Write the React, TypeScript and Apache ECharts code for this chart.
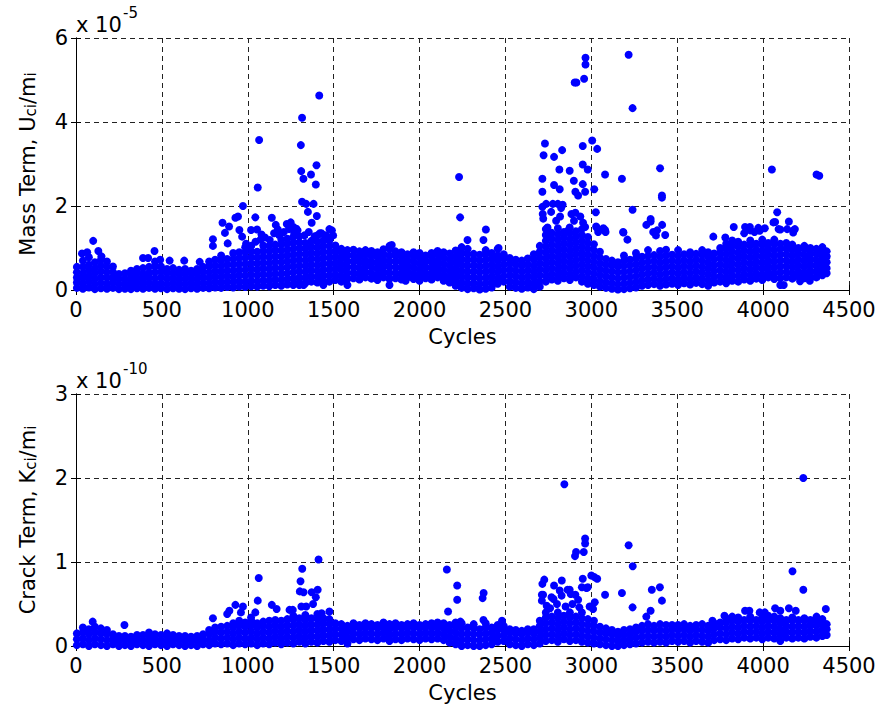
import React, { useEffect, useRef } from "react";
import * as echarts from "echarts";

// x axis: cycles; top panel values in units of 1e-5, bottom panel in units of 1e-10
const xTicks = [0, 500, 1000, 1500, 2000, 2500, 3000, 3500, 4000, 4500];
const massTicks = [0, 2, 4, 6];
const crackTicks = [0, 1, 2, 3];

// dense band of the Mass Term panel: [cycle, y1, y2, ...] (x 1e-5)
const massBand: number[][] = [
  [5, 0.05, 0.18, 0.3, 0.42, 0.55],
  [40, 0.03, 0.15, 0.28, 0.4, 0.55, 0.7],
  [75, 0.06, 0.2, 0.33, 0.47, 0.6, 0.78],
  [110, 0.02, 0.14, 0.27, 0.4, 0.52, 0.66],
  [145, 0.04, 0.17, 0.3, 0.44, 0.58, 0.72],
  [180, 0.03, 0.15, 0.29, 0.42, 0.55, 0.68],
  [215, 0.05, 0.18, 0.3, 0.43, 0.56],
  [250, 0.02, 0.14, 0.26, 0.38],
  [285, 0.03, 0.15, 0.27, 0.4],
  [320, 0.02, 0.13, 0.25, 0.37, 0.46],
  [355, 0.04, 0.16, 0.28, 0.4, 0.5],
  [390, 0.03, 0.15, 0.27, 0.39, 0.52],
  [425, 0.05, 0.17, 0.29, 0.41, 0.55],
  [460, 0.03, 0.15, 0.28, 0.42, 0.56, 0.68],
  [495, 0.04, 0.16, 0.3, 0.43, 0.56],
  [530, 0.02, 0.14, 0.27, 0.4, 0.5],
  [565, 0.04, 0.16, 0.28, 0.4, 0.52],
  [600, 0.03, 0.15, 0.27, 0.39, 0.48],
  [635, 0.02, 0.14, 0.26, 0.38, 0.5],
  [670, 0.04, 0.16, 0.28, 0.4, 0.46],
  [705, 0.03, 0.15, 0.27, 0.39, 0.5],
  [740, 0.05, 0.17, 0.3, 0.43, 0.55],
  [775, 0.04, 0.16, 0.29, 0.42, 0.56, 0.68],
  [810, 0.06, 0.19, 0.32, 0.45, 0.58, 0.72],
  [845, 0.05, 0.18, 0.31, 0.44, 0.57, 0.7, 0.82],
  [880, 0.07, 0.2, 0.33, 0.46, 0.6, 0.74],
  [915, 0.06, 0.19, 0.32, 0.46, 0.6, 0.74, 0.88],
  [950, 0.08, 0.21, 0.35, 0.48, 0.62, 0.76, 0.9],
  [985, 0.07, 0.2, 0.34, 0.48, 0.62, 0.76, 0.9, 1.02],
  [1020, 0.09, 0.22, 0.36, 0.5, 0.64, 0.78, 0.92, 1.05],
  [1055, 0.08, 0.21, 0.35, 0.49, 0.63, 0.77, 0.91],
  [1090, 0.1, 0.23, 0.37, 0.51, 0.65, 0.79, 0.93, 1.06],
  [1125, 0.09, 0.22, 0.36, 0.5, 0.64, 0.78, 0.92, 1.05],
  [1160, 0.12, 0.25, 0.39, 0.53, 0.67, 0.81, 0.95, 1.08],
  [1195, 0.1, 0.24, 0.38, 0.52, 0.66, 0.8, 0.94, 1.08, 1.2],
  [1230, 0.13, 0.26, 0.4, 0.54, 0.68, 0.82, 0.96, 1.1, 1.22],
  [1265, 0.15, 0.28, 0.42, 0.56, 0.7, 0.84, 0.98, 1.12, 1.26],
  [1300, 0.18, 0.3, 0.44, 0.58, 0.72, 0.86, 1.0, 1.14, 1.28],
  [1335, 0.16, 0.29, 0.43, 0.57, 0.71, 0.85, 0.99, 1.12],
  [1370, 0.2, 0.33, 0.47, 0.61, 0.75, 0.89, 1.03, 1.17],
  [1405, 0.18, 0.31, 0.45, 0.59, 0.73, 0.87, 1.01, 1.15, 1.3],
  [1440, 0.22, 0.35, 0.49, 0.63, 0.77, 0.91, 1.05, 1.18],
  [1475, 0.2, 0.34, 0.48, 0.62, 0.76, 0.9, 1.04, 1.18],
  [1510, 0.24, 0.37, 0.51, 0.65, 0.79, 0.93, 1.06],
  [1545, 0.2, 0.33, 0.47, 0.61, 0.75, 0.89, 0.98],
  [1580, 0.12, 0.26, 0.4, 0.54, 0.68, 0.82, 0.95],
  [1615, 0.28, 0.41, 0.55, 0.69, 0.83, 0.96],
  [1650, 0.25, 0.38, 0.52, 0.66, 0.8, 0.92],
  [1685, 0.3, 0.43, 0.57, 0.71, 0.85, 0.95],
  [1720, 0.27, 0.4, 0.54, 0.68, 0.82, 0.93],
  [1755, 0.24, 0.37, 0.51, 0.65, 0.79, 0.9],
  [1790, 0.3, 0.43, 0.57, 0.71, 0.85, 0.97],
  [1825, 0.12, 0.26, 0.4, 0.54, 0.68, 0.82, 0.98, 1.05],
  [1860, 0.28, 0.41, 0.55, 0.69, 0.83, 0.92],
  [1895, 0.25, 0.38, 0.52, 0.66, 0.8, 0.9],
  [1930, 0.3, 0.43, 0.57, 0.71, 0.85],
  [1965, 0.26, 0.39, 0.53, 0.67, 0.81, 0.9],
  [2000, 0.22, 0.35, 0.49, 0.63, 0.77, 0.88],
  [2035, 0.28, 0.41, 0.55, 0.69, 0.82],
  [2070, 0.25, 0.38, 0.52, 0.66, 0.8, 0.88],
  [2105, 0.3, 0.43, 0.57, 0.71, 0.85, 0.93],
  [2140, 0.22, 0.35, 0.49, 0.63, 0.77, 0.9],
  [2175, 0.18, 0.31, 0.45, 0.59, 0.73, 0.87],
  [2210, 0.1, 0.24, 0.38, 0.52, 0.66, 0.8, 0.94],
  [2245, 0.05, 0.18, 0.32, 0.46, 0.6, 0.74, 0.88, 1.02],
  [2280, 0.02, 0.15, 0.29, 0.43, 0.57, 0.71, 0.85, 0.98],
  [2315, 0.04, 0.17, 0.31, 0.45, 0.59, 0.73, 0.86],
  [2350, 0.01, 0.14, 0.28, 0.42, 0.56, 0.7, 0.84],
  [2385, 0.03, 0.16, 0.3, 0.44, 0.58, 0.72, 0.85, 0.95],
  [2420, 0.06, 0.19, 0.33, 0.47, 0.61, 0.75, 0.88],
  [2455, 0.15, 0.28, 0.42, 0.56, 0.7, 0.82, 0.98],
  [2490, 0.2, 0.33, 0.47, 0.61, 0.75, 0.85],
  [2525, 0.08, 0.21, 0.35, 0.49, 0.63, 0.76],
  [2560, 0.05, 0.18, 0.32, 0.46, 0.6, 0.72],
  [2595, 0.03, 0.16, 0.3, 0.44, 0.58, 0.7],
  [2630, 0.06, 0.19, 0.33, 0.47, 0.61, 0.75],
  [2665, 0.02, 0.15, 0.29, 0.43, 0.57, 0.72, 0.85],
  [2700, 0.08, 0.21, 0.35, 0.49, 0.63, 0.77, 0.91, 1.05],
  [2735, 0.2, 0.33, 0.47, 0.61, 0.75, 0.89, 1.03, 1.17, 1.31, 1.45],
  [2770, 0.25, 0.38, 0.52, 0.66, 0.8, 0.94, 1.08, 1.22, 1.36],
  [2805, 0.22, 0.35, 0.49, 0.63, 0.77, 0.91, 1.05, 1.19, 1.33, 1.47],
  [2840, 0.28, 0.41, 0.55, 0.69, 0.83, 0.97, 1.11, 1.25, 1.38],
  [2875, 0.24, 0.37, 0.51, 0.65, 0.79, 0.93, 1.07, 1.21, 1.35],
  [2910, 0.3, 0.43, 0.57, 0.71, 0.85, 0.99, 1.13, 1.27, 1.4],
  [2945, 0.2, 0.33, 0.47, 0.61, 0.75, 0.89, 1.03, 1.17, 1.31, 1.45],
  [2980, 0.15, 0.28, 0.42, 0.56, 0.7, 0.84, 0.98, 1.12, 1.26],
  [3015, 0.12, 0.25, 0.39, 0.53, 0.67, 0.81, 0.95, 1.09],
  [3050, 0.08, 0.21, 0.35, 0.49, 0.63, 0.77, 0.91],
  [3085, 0.05, 0.18, 0.32, 0.46, 0.6, 0.74],
  [3120, 0.03, 0.16, 0.3, 0.44, 0.58, 0.7],
  [3155, 0.01, 0.14, 0.28, 0.42, 0.56, 0.66],
  [3190, 0.02, 0.15, 0.29, 0.43, 0.57, 0.7, 0.82],
  [3225, 0.04, 0.17, 0.31, 0.45, 0.59, 0.72],
  [3260, 0.06, 0.19, 0.33, 0.47, 0.61, 0.75, 0.88],
  [3295, 0.1, 0.23, 0.37, 0.51, 0.65, 0.79],
  [3330, 0.12, 0.25, 0.39, 0.53, 0.67, 0.81, 0.95],
  [3365, 0.14, 0.27, 0.41, 0.55, 0.69, 0.83],
  [3400, 0.1, 0.23, 0.37, 0.51, 0.65, 0.79, 0.93],
  [3435, 0.13, 0.26, 0.4, 0.54, 0.68, 0.82, 0.96],
  [3470, 0.15, 0.28, 0.42, 0.56, 0.7, 0.84],
  [3505, 0.12, 0.25, 0.39, 0.53, 0.67, 0.81, 0.95],
  [3540, 0.16, 0.29, 0.43, 0.57, 0.71, 0.85],
  [3575, 0.13, 0.26, 0.4, 0.54, 0.68, 0.82, 0.9],
  [3610, 0.17, 0.3, 0.44, 0.58, 0.72, 0.86],
  [3645, 0.14, 0.27, 0.41, 0.55, 0.69, 0.83, 0.95],
  [3680, 0.1, 0.23, 0.37, 0.51, 0.65, 0.79, 0.9],
  [3715, 0.18, 0.31, 0.45, 0.59, 0.73, 0.87],
  [3750, 0.2, 0.33, 0.47, 0.61, 0.75, 0.89, 1.0],
  [3785, 0.16, 0.29, 0.43, 0.57, 0.71, 0.85, 0.99, 1.1],
  [3820, 0.22, 0.35, 0.49, 0.63, 0.77, 0.91, 1.05, 1.18],
  [3855, 0.2, 0.33, 0.47, 0.61, 0.75, 0.89, 1.03, 1.15],
  [3890, 0.25, 0.38, 0.52, 0.66, 0.8, 0.94, 1.08],
  [3925, 0.22, 0.35, 0.49, 0.63, 0.77, 0.91, 1.05, 1.18],
  [3960, 0.27, 0.4, 0.54, 0.68, 0.82, 0.96, 1.1],
  [3995, 0.24, 0.37, 0.51, 0.65, 0.79, 0.93, 1.07, 1.2],
  [4030, 0.3, 0.43, 0.57, 0.71, 0.85, 0.99, 1.12],
  [4065, 0.26, 0.39, 0.53, 0.67, 0.81, 0.95, 1.09, 1.2],
  [4100, 0.12, 0.28, 0.42, 0.56, 0.7, 0.84, 0.98, 1.1],
  [4135, 0.3, 0.43, 0.57, 0.71, 0.85, 0.99, 1.12],
  [4170, 0.27, 0.4, 0.54, 0.68, 0.82, 0.96, 1.08],
  [4205, 0.32, 0.45, 0.59, 0.73, 0.87, 1.0],
  [4240, 0.28, 0.41, 0.55, 0.69, 0.83, 0.97, 1.05],
  [4275, 0.33, 0.46, 0.6, 0.74, 0.88, 1.0],
  [4310, 0.3, 0.43, 0.57, 0.71, 0.85, 0.98],
  [4345, 0.35, 0.48, 0.62, 0.76, 0.9, 1.02],
  [4370, 0.4, 0.52, 0.66, 0.8, 0.92],
];

// scattered points of the Mass Term panel: [cycle, value] (x 1e-5)
const massScatter: number[][] = [
  [35, 0.87], [65, 0.9], [100, 1.17], [130, 0.93], [148, 0.8], [390, 0.76], [420, 0.76],
  [457, 0.93], [490, 0.72], [545, 0.7], [630, 0.7], [720, 0.67],
  [797, 1.21], [797, 1.05], [853, 1.6], [867, 1.36], [883, 1.11], [891, 1.51], [928, 1.72],
  [943, 1.75], [951, 1.43], [967, 1.27], [972, 2.0], [990, 1.1],
  [1019, 1.43], [1044, 1.73], [1054, 1.44], [1058, 2.44], [1066, 3.57], [1074, 1.2],
  [1128, 1.19], [1140, 1.72], [1153, 1.35], [1163, 1.55], [1175, 1.44], [1227, 1.57],
  [1250, 1.61], [1265, 1.5], [1283, 1.46], [1309, 3.45], [1311, 2.83], [1316, 4.1],
  [1316, 2.1], [1324, 2.65], [1340, 2.05], [1350, 1.86], [1368, 2.75], [1372, 1.6],
  [1383, 2.05], [1396, 2.51], [1400, 2.97], [1402, 1.76], [1416, 4.63], [1429, 1.35],
  [1475, 1.45], [1490, 1.42], [1497, 1.3], [1265, 0.12], [1300, 0.12], [1325, 0.12], [1440, 0.12],
  [1045, 1.15], [1080, 1.32], [1100, 1.25], [1185, 1.3], [1210, 1.38], [1240, 1.45],
  [1270, 1.36], [1290, 1.42], [1330, 1.3], [1355, 1.38], [1390, 1.28], [1420, 1.35],
  [1455, 1.3], [1480, 1.25],
  [1838, 1.07], [1919, 0.22], [2230, 2.69], [2236, 1.73], [2279, 1.19], [2372, 1.19],
  [2386, 1.44], [2460, 1.0],
  [2715, 2.65], [2715, 2.34], [2722, 3.21], [2730, 3.49], [2783, 3.17], [2783, 2.5],
  [2814, 2.87], [2816, 2.4], [2830, 3.33], [2874, 2.84], [2898, 2.6], [2903, 4.94],
  [2907, 2.34], [2913, 4.94], [2923, 2.25], [2950, 2.52], [2950, 2.99], [2950, 3.43],
  [2958, 5.03], [2964, 2.34], [2966, 5.37], [2966, 5.53], [2979, 2.87], [3005, 3.56],
  [3017, 2.4], [3026, 1.85], [3034, 3.36], [3080, 2.75], [3178, 2.65], [3185, 1.38],
  [3217, 5.6], [3240, 4.33], [3240, 1.91],
  [2715, 1.98], [2737, 2.05], [2776, 2.05], [2805, 2.05], [2833, 2.03], [2766, 1.86],
  [2717, 1.81], [2720, 1.7], [2824, 1.95], [2818, 1.75], [2795, 1.65], [2884, 1.81],
  [2907, 1.84], [2936, 1.75], [2899, 1.65], [2952, 1.6], [2964, 1.5], [2745, 1.49],
  [2750, 1.33], [2874, 1.49], [2860, 1.4], [3028, 1.51], [3040, 1.38], [3070, 1.47],
  [3083, 1.38], [3033, 1.48], [3080, 1.43], [3187, 1.37], [3210, 1.2],
  [3320, 1.55], [3345, 1.69], [3345, 1.63], [3360, 1.38], [3376, 1.3], [3383, 1.42],
  [3400, 2.9], [3411, 2.25], [3411, 2.2], [3412, 1.55], [3430, 1.31], [3710, 1.27],
  [3780, 1.25], [3829, 1.5], [3890, 1.35], [3895, 1.5], [3923, 1.5], [3925, 1.42],
  [3950, 1.38], [3972, 1.48], [3980, 1.41], [4010, 1.47], [4051, 2.87], [4060, 1.61],
  [4070, 1.62], [4082, 1.85], [4090, 1.45], [4100, 1.44], [4140, 1.45], [4150, 1.63],
  [4175, 1.37], [4180, 1.43], [4185, 1.45], [4215, 0.21], [4120, 0.12], [4272, 0.22],
  [4311, 2.75], [4327, 2.72],
];

// dense band of the Crack Term panel: [cycle, y1, y2, ...] (x 1e-10)
const crackBand: number[][] = [
  [5, 0.01, 0.08, 0.15],
  [40, 0.02, 0.09, 0.16, 0.22],
  [75, 0.0, 0.07, 0.14, 0.2],
  [110, 0.02, 0.09, 0.16, 0.23],
  [145, 0.01, 0.08, 0.15, 0.21],
  [180, 0.0, 0.07, 0.14, 0.19],
  [215, 0.02, 0.08, 0.14],
  [250, 0.0, 0.06, 0.12],
  [285, 0.01, 0.07, 0.12],
  [320, 0.0, 0.06, 0.11],
  [355, 0.02, 0.08, 0.13],
  [390, 0.01, 0.07, 0.13],
  [425, 0.0, 0.06, 0.12, 0.16],
  [460, 0.02, 0.08, 0.14],
  [495, 0.01, 0.07, 0.13],
  [530, 0.0, 0.06, 0.12, 0.15],
  [565, 0.02, 0.08, 0.13],
  [600, 0.01, 0.07, 0.12],
  [635, 0.0, 0.06, 0.12],
  [670, 0.01, 0.07, 0.11],
  [705, 0.0, 0.06, 0.12],
  [740, 0.02, 0.08, 0.14],
  [775, 0.01, 0.07, 0.14, 0.19],
  [810, 0.03, 0.1, 0.17, 0.22],
  [845, 0.02, 0.09, 0.16, 0.23],
  [880, 0.03, 0.1, 0.17, 0.24],
  [915, 0.01, 0.08, 0.15, 0.22, 0.27],
  [950, 0.03, 0.1, 0.17, 0.24, 0.3],
  [985, 0.02, 0.09, 0.16, 0.23, 0.28],
  [1020, 0.03, 0.1, 0.17, 0.24, 0.3],
  [1055, 0.01, 0.08, 0.15, 0.22, 0.27],
  [1090, 0.03, 0.1, 0.17, 0.24, 0.29],
  [1125, 0.02, 0.09, 0.16, 0.23, 0.3],
  [1160, 0.04, 0.11, 0.18, 0.25, 0.31],
  [1195, 0.02, 0.09, 0.16, 0.23, 0.3],
  [1230, 0.04, 0.11, 0.18, 0.25, 0.32],
  [1265, 0.03, 0.1, 0.17, 0.24, 0.31, 0.36],
  [1300, 0.05, 0.12, 0.19, 0.26, 0.33],
  [1335, 0.03, 0.1, 0.17, 0.24, 0.31, 0.37],
  [1370, 0.05, 0.12, 0.19, 0.26, 0.33],
  [1405, 0.04, 0.11, 0.18, 0.25, 0.32, 0.38],
  [1440, 0.06, 0.13, 0.2, 0.27, 0.33],
  [1475, 0.05, 0.12, 0.19, 0.26, 0.32],
  [1510, 0.07, 0.14, 0.21, 0.27],
  [1545, 0.06, 0.13, 0.2, 0.26],
  [1580, 0.03, 0.1, 0.17, 0.24],
  [1615, 0.08, 0.15, 0.22, 0.27],
  [1650, 0.07, 0.14, 0.21, 0.25],
  [1685, 0.09, 0.16, 0.23, 0.27],
  [1720, 0.08, 0.15, 0.22, 0.26],
  [1755, 0.07, 0.14, 0.21, 0.25],
  [1790, 0.09, 0.16, 0.23, 0.28],
  [1825, 0.06, 0.13, 0.2, 0.26],
  [1860, 0.08, 0.15, 0.22, 0.27],
  [1895, 0.07, 0.14, 0.21, 0.25],
  [1930, 0.09, 0.16, 0.23, 0.26],
  [1965, 0.08, 0.15, 0.22, 0.27],
  [2000, 0.07, 0.14, 0.21, 0.25],
  [2035, 0.09, 0.16, 0.23, 0.26],
  [2070, 0.08, 0.15, 0.22, 0.27],
  [2105, 0.09, 0.16, 0.23, 0.28],
  [2140, 0.07, 0.14, 0.21, 0.27],
  [2175, 0.04, 0.11, 0.18, 0.25],
  [2210, 0.02, 0.09, 0.16, 0.23, 0.28],
  [2245, 0.0, 0.07, 0.14, 0.21, 0.27],
  [2280, 0.01, 0.08, 0.15, 0.22],
  [2315, 0.0, 0.07, 0.14, 0.21, 0.26],
  [2350, 0.0, 0.07, 0.14, 0.2],
  [2385, 0.01, 0.08, 0.15, 0.22, 0.27],
  [2420, 0.02, 0.09, 0.16, 0.22],
  [2455, 0.05, 0.12, 0.19, 0.25],
  [2490, 0.06, 0.13, 0.2, 0.24],
  [2525, 0.02, 0.09, 0.16, 0.2],
  [2560, 0.01, 0.08, 0.15, 0.19],
  [2595, 0.0, 0.07, 0.14, 0.18],
  [2630, 0.02, 0.09, 0.16, 0.2],
  [2665, 0.01, 0.08, 0.15, 0.2],
  [2700, 0.03, 0.1, 0.17, 0.24, 0.3],
  [2735, 0.06, 0.13, 0.2, 0.27, 0.34, 0.4],
  [2770, 0.07, 0.14, 0.21, 0.28, 0.35],
  [2805, 0.05, 0.12, 0.19, 0.26, 0.33, 0.4],
  [2840, 0.08, 0.15, 0.22, 0.29, 0.36],
  [2875, 0.06, 0.13, 0.2, 0.27, 0.34, 0.4],
  [2910, 0.07, 0.14, 0.21, 0.28, 0.35],
  [2945, 0.05, 0.12, 0.19, 0.26, 0.33, 0.4],
  [2980, 0.04, 0.11, 0.18, 0.25, 0.32],
  [3015, 0.03, 0.1, 0.17, 0.24, 0.3],
  [3050, 0.02, 0.09, 0.16, 0.23],
  [3085, 0.01, 0.08, 0.15, 0.21],
  [3120, 0.0, 0.07, 0.14, 0.19],
  [3155, 0.0, 0.06, 0.12, 0.17],
  [3190, 0.01, 0.07, 0.13, 0.19],
  [3225, 0.02, 0.08, 0.14, 0.2],
  [3260, 0.03, 0.1, 0.17, 0.22],
  [3295, 0.04, 0.11, 0.18, 0.24],
  [3330, 0.05, 0.12, 0.19, 0.26],
  [3365, 0.04, 0.11, 0.18, 0.24],
  [3400, 0.05, 0.12, 0.19, 0.26],
  [3435, 0.04, 0.11, 0.18, 0.25],
  [3470, 0.06, 0.13, 0.2, 0.25],
  [3505, 0.05, 0.12, 0.19, 0.25],
  [3540, 0.06, 0.13, 0.2, 0.26],
  [3575, 0.04, 0.11, 0.18, 0.24],
  [3610, 0.06, 0.13, 0.2, 0.25],
  [3645, 0.05, 0.12, 0.19, 0.26],
  [3680, 0.04, 0.11, 0.18, 0.24],
  [3715, 0.07, 0.14, 0.21, 0.27],
  [3750, 0.08, 0.15, 0.22, 0.28],
  [3785, 0.07, 0.14, 0.21, 0.28, 0.33],
  [3820, 0.09, 0.16, 0.23, 0.3, 0.35],
  [3855, 0.08, 0.15, 0.22, 0.29, 0.34],
  [3890, 0.1, 0.17, 0.24, 0.31],
  [3925, 0.09, 0.16, 0.23, 0.3, 0.35],
  [3960, 0.1, 0.17, 0.24, 0.31],
  [3995, 0.08, 0.15, 0.22, 0.29, 0.34],
  [4030, 0.1, 0.17, 0.24, 0.31, 0.36],
  [4065, 0.09, 0.16, 0.23, 0.3, 0.35],
  [4100, 0.06, 0.13, 0.2, 0.27, 0.33],
  [4135, 0.1, 0.17, 0.24, 0.31],
  [4170, 0.09, 0.16, 0.23, 0.3, 0.34],
  [4205, 0.1, 0.17, 0.24, 0.31],
  [4240, 0.09, 0.16, 0.23, 0.3, 0.33],
  [4275, 0.11, 0.18, 0.25, 0.31],
  [4310, 0.1, 0.17, 0.24, 0.3],
  [4345, 0.12, 0.19, 0.26, 0.32],
  [4370, 0.13, 0.2, 0.26],
];

// scattered points of the Crack Term panel: [cycle, value] (x 1e-10)
const crackScatter: number[][] = [
  [97, 0.29], [282, 0.25], [797, 0.33], [880, 0.38], [893, 0.42], [928, 0.49], [960, 0.4],
  [972, 0.47], [1019, 0.34], [1044, 0.4], [1058, 0.54], [1064, 0.81], [1140, 0.49],
  [1168, 0.44], [1243, 0.43], [1262, 0.43], [1303, 0.65], [1307, 0.77], [1312, 0.47],
  [1317, 0.92], [1325, 0.64], [1340, 0.47], [1372, 0.64], [1380, 0.5], [1396, 0.58],
  [1407, 0.67], [1412, 1.03], [1430, 0.39], [1475, 0.41],
  [2159, 0.91], [2166, 0.41], [2219, 0.72], [2219, 0.55], [2238, 0.29], [2367, 0.57],
  [2373, 0.63], [2372, 0.31], [2480, 0.3],
  [2712, 0.61], [2712, 0.54], [2715, 0.74], [2719, 0.61], [2726, 0.79], [2740, 0.48],
  [2760, 0.45], [2768, 0.58], [2780, 0.56], [2783, 0.72], [2800, 0.5], [2816, 0.66],
  [2827, 0.6], [2828, 0.78], [2843, 1.925], [2850, 0.47], [2862, 0.67], [2874, 0.67],
  [2880, 0.62], [2890, 0.5], [2905, 1.07], [2907, 0.61], [2911, 1.12], [2923, 0.55],
  [2930, 0.46], [2945, 0.7], [2950, 0.8], [2956, 1.12], [2964, 1.22], [2964, 1.28],
  [2972, 0.69], [2979, 0.7], [2990, 0.47], [3000, 0.84], [3010, 0.44], [3018, 0.82],
  [3020, 0.52], [3034, 0.8], [3080, 0.61], [3178, 0.63], [3217, 1.2], [3240, 0.46],
  [3241, 0.95], [3320, 0.35], [3345, 0.42], [3352, 0.67], [3399, 0.7], [3411, 0.54],
  [3705, 0.3], [3775, 0.36], [3895, 0.42], [3920, 0.42], [3980, 0.4], [4010, 0.4],
  [4070, 0.45], [4100, 0.42], [4150, 0.45], [4171, 0.89], [4190, 0.42], [4234, 2.0],
  [4234, 0.67], [4311, 0.35], [4365, 0.44],
];

const FONT = '"DejaVu Sans", sans-serif';
const FS = 21;
const BLUE = "#0000ff";

function toPoints(band: number[][], scatter: number[][]): number[][] {
  const pts: number[][] = [];
  band.forEach((row) => {
    const c = row[0];
    row.slice(1).forEach((v) => pts.push([c, v]));
  });
  scatter.forEach((p) => pts.push([p[0], p[1]]));
  return pts;
}

export default function App() {
  const ref = useRef<HTMLDivElement>(null);

  useEffect(() => {
    if (!ref.current) return;
    const chart = echarts.init(ref.current, undefined, { renderer: "svg" });

    const grids = [
      { left: 76, top: 38, width: 773, height: 252 },
      { left: 76, top: 394, width: 773, height: 252 },
    ];

    const splitStyle = { show: true, lineStyle: { color: "#222", type: [5, 4] as any, width: 1 } };
    const lineStyle = { show: true, lineStyle: { color: "#000", width: 1 } };
    const tickStyle = { show: true, inside: true, length: 5, lineStyle: { color: "#000" } };
    const labelStyle = {
      color: "#000",
      fontSize: FS,
      fontFamily: FONT,
      formatter: (v: number) => String(v),
    };

    const xMain = (gi: number) => ({
      type: "value",
      gridIndex: gi,
      position: "bottom",
      min: xTicks[0],
      max: xTicks[xTicks.length - 1],
      interval: 500,
      axisLine: lineStyle,
      axisTick: tickStyle,
      splitLine: splitStyle,
      axisLabel: { ...labelStyle, margin: 9 },
      name: "Cycles",
      nameLocation: "middle",
      nameGap: 36,
      nameTextStyle: { color: "#000", fontSize: FS, fontFamily: FONT },
    });
    const xTop = (gi: number) => ({
      type: "value",
      gridIndex: gi,
      position: "top",
      min: xTicks[0],
      max: xTicks[xTicks.length - 1],
      interval: 500,
      axisLine: lineStyle,
      axisTick: tickStyle,
      splitLine: { show: false },
      axisLabel: { show: false },
    });
    const yMain = (gi: number, ticks: number[], name: string) => ({
      type: "value",
      gridIndex: gi,
      position: "left",
      min: ticks[0],
      max: ticks[ticks.length - 1],
      interval: ticks[1] - ticks[0],
      axisLine: lineStyle,
      axisTick: tickStyle,
      splitLine: splitStyle,
      axisLabel: { ...labelStyle, margin: 8 },
      name,
      nameLocation: "middle",
      nameRotate: 90,
      nameGap: 38,
      nameTextStyle: {
        color: "#000",
        fontFamily: FONT,
        fontSize: FS,
        rich: {
          a: { fontSize: FS, fontFamily: FONT, color: "#000", lineHeight: 26, verticalAlign: "bottom" },
          s: { fontSize: 15, fontFamily: FONT, color: "#000", lineHeight: 14, verticalAlign: "bottom" },
        },
      },
    });
    const yRight = (gi: number, ticks: number[]) => ({
      type: "value",
      gridIndex: gi,
      position: "right",
      min: ticks[0],
      max: ticks[ticks.length - 1],
      interval: ticks[1] - ticks[0],
      axisLine: lineStyle,
      axisTick: tickStyle,
      splitLine: { show: false },
      axisLabel: { show: false },
    });

    const expText = (x: number, y: number, base: string, exp: string) => [
      {
        type: "text",
        x,
        y,
        silent: true,
        style: { text: base, fontSize: FS, fontFamily: FONT, fill: "#000", align: "left", verticalAlign: "middle" },
      },
      {
        type: "text",
        x: x + 47,
        y: y - 12,
        silent: true,
        style: { text: exp, fontSize: 15, fontFamily: FONT, fill: "#000", align: "left", verticalAlign: "middle" },
      },
    ];

    const scatterBase = {
      type: "scatter",
      symbol: "circle",
      symbolSize: 8,
      itemStyle: { color: BLUE, opacity: 1 },
      clip: false,
      large: false,
    };

    chart.setOption({
      animation: false,
      backgroundColor: "#fff",
      grid: grids,
      xAxis: [xMain(0), xMain(1), xTop(0), xTop(1)],
      yAxis: [
        yMain(0, massTicks, "{a|Mass Term, U}{s|ci}{a|/m}{s|i}"),
        yMain(1, crackTicks, "{a|Crack Term, K}{s|ci}{a|/m}{s|i}"),
        yRight(0, massTicks),
        yRight(1, crackTicks),
      ],
      graphic: [...expText(76, 25, "x 10", "-5"), ...expText(76, 381, "x 10", "-10")],
      series: [
        { ...scatterBase, xAxisIndex: 0, yAxisIndex: 0, data: toPoints(massBand, massScatter) },
        { ...scatterBase, xAxisIndex: 1, yAxisIndex: 1, data: toPoints(crackBand, crackScatter) },
      ],
    });

    return () => chart.dispose();
  }, []);

  return (
    <div
      ref={ref}
      style={{ position: "fixed", left: 0, top: 0, width: 883, height: 710, background: "#fff" }}
    />
  );
}
